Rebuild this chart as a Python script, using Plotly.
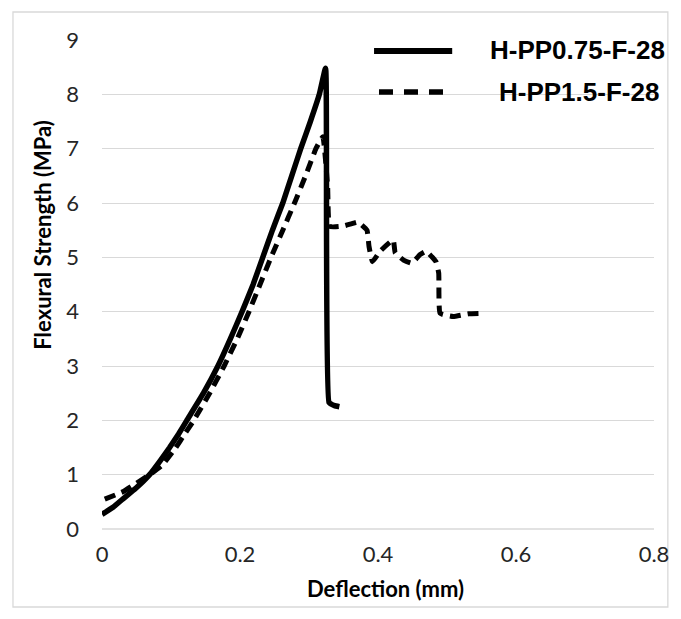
import plotly.graph_objects as go

# ---- data ----
solid_name = "H-PP0.75-F-28"
solid_x = [0.0, 0.016, 0.030, 0.049, 0.069, 0.084, 0.098, 0.111, 0.123, 0.147, 0.168,
           0.186, 0.203, 0.219, 0.233, 0.247, 0.262, 0.275, 0.288, 0.302, 0.315, 0.324,
           0.329, 0.337, 0.344]
solid_y = [0.27, 0.40, 0.55, 0.75, 1.0, 1.25, 1.5, 1.75, 2.0, 2.5, 3.0,
           3.5, 4.0, 4.5, 5.0, 5.5, 6.0, 6.5, 7.0, 7.5, 8.0, 8.48,
           2.33, 2.27, 2.25]

dash_name = "H-PP1.5-F-28"
dash_x = [0.004, 0.031, 0.047, 0.069, 0.087, 0.106, 0.120, 0.133, 0.156, 0.177, 0.196,
          0.213, 0.229, 0.245, 0.262, 0.279, 0.295, 0.310, 0.320, 0.327, 0.330,
          0.351, 0.362, 0.371, 0.384, 0.387, 0.392, 0.403, 0.422, 0.425, 0.437,
          0.449, 0.461, 0.470, 0.484, 0.488, 0.490, 0.509, 0.531, 0.554]
dash_y = [0.55, 0.69, 0.82, 1.0, 1.17, 1.48, 1.75, 2.0, 2.5, 3.0, 3.5,
          4.0, 4.5, 5.0, 5.5, 6.0, 6.5, 7.0, 7.22, 6.3, 5.57,
          5.58, 5.62, 5.65, 5.5, 5.2, 4.92, 5.11, 5.32, 5.08, 4.95,
          4.89, 5.05, 5.11, 4.92, 4.71, 3.97, 3.91, 3.96, 3.97]

x_ticks = [0, 0.2, 0.4, 0.6, 0.8]
x_tick_text = ["0", "0.2", "0.4", "0.6", "0.8"]
y_ticks = list(range(0, 10))

x_title = "Deflection (mm)"
y_title = "Flexural Strength (MPa)"

# ---- figure ----
W, H = 681, 619
L, R, T, B = 102, 21, 40, 90
pw, ph = W - L - R, H - T - B

def px(xp):
    return (xp - L) / pw

def py(yp):
    return (H - B - yp) / ph

fig = go.Figure()
fig.add_trace(go.Scatter(x=solid_x, y=solid_y, mode="lines", name=solid_name,
                         line=dict(color="black", width=5.5, shape="spline", smoothing=0.35),
                         showlegend=False))
fig.add_trace(go.Scatter(x=dash_x, y=dash_y, mode="lines", name=dash_name,
                         line=dict(color="black", width=5, dash="11px,7px",
                                   shape="spline", smoothing=0.35),
                         showlegend=False))

tick_font = dict(family="Lato, Carlito, sans-serif", size=22, color="#262626")
title_font = dict(family="Lato, Carlito, sans-serif", size=22, color="black")
legend_font = dict(family="Liberation Sans, Arial, sans-serif", size=26, color="black")

fig.update_layout(
    width=W, height=H,
    margin=dict(l=L, r=R, t=T, b=B, pad=0),
    paper_bgcolor="white", plot_bgcolor="white",
    showlegend=False,
    xaxis=dict(range=[0, 0.8], tickvals=x_ticks, ticktext=x_tick_text,
               showgrid=False, zeroline=False, showline=False, ticks="",
               tickfont=tick_font, ticklabelstandoff=10, fixedrange=True),
    yaxis=dict(range=[0, 9], tickvals=y_ticks, showgrid=True, gridcolor="#d9d9d9",
               gridwidth=1.3, zeroline=False, showline=False, ticks="",
               tickfont=tick_font, ticklabelstandoff=22, fixedrange=True),
)

# bottom axis line (gray, like the gridlines)
fig.add_shape(type="line", xref="paper", yref="paper", x0=0, x1=1, y0=0, y1=0,
              line=dict(color="#d9d9d9", width=1.3), layer="below")

# outer chart border
fig.add_shape(type="rect", xref="paper", yref="paper",
              x0=px(12), x1=px(674), y0=py(607), y1=py(12),
              line=dict(color="#d9d9d9", width=1.3), layer="below")

# axis titles
fig.add_annotation(text="<b>" + y_title + "</b>", xref="paper", yref="paper",
                   x=px(41), y=py(235), textangle=-90, showarrow=False, font=title_font,
                   xanchor="center", yanchor="middle")
fig.add_annotation(text="<b>" + x_title + "</b>", xref="paper", yref="paper",
                   x=px(389), y=py(588), showarrow=False, font=title_font,
                   xanchor="center", yanchor="middle")

# manual legend
fig.add_shape(type="line", xref="paper", yref="paper", x0=px(377), x1=px(456),
              y0=py(51), y1=py(51), line=dict(color="black", width=6))
fig.add_shape(type="line", xref="paper", yref="paper", x0=px(382), x1=px(447),
              y0=py(92), y1=py(92), line=dict(color="black", width=5.5, dash="14px,11px"))
fig.add_annotation(text="<b>" + solid_name + "</b>", xref="paper", yref="paper",
                   x=px(583), y=py(50), showarrow=False, font=legend_font,
                   xanchor="center", yanchor="middle")
fig.add_annotation(text="<b>" + dash_name + "</b>", xref="paper", yref="paper",
                   x=px(584), y=py(92), showarrow=False, font=legend_font,
                   xanchor="center", yanchor="middle")

fig.write_html("out.html", config={"displayModeBar": False},
               post_script="document.body.style.margin='0px';")
